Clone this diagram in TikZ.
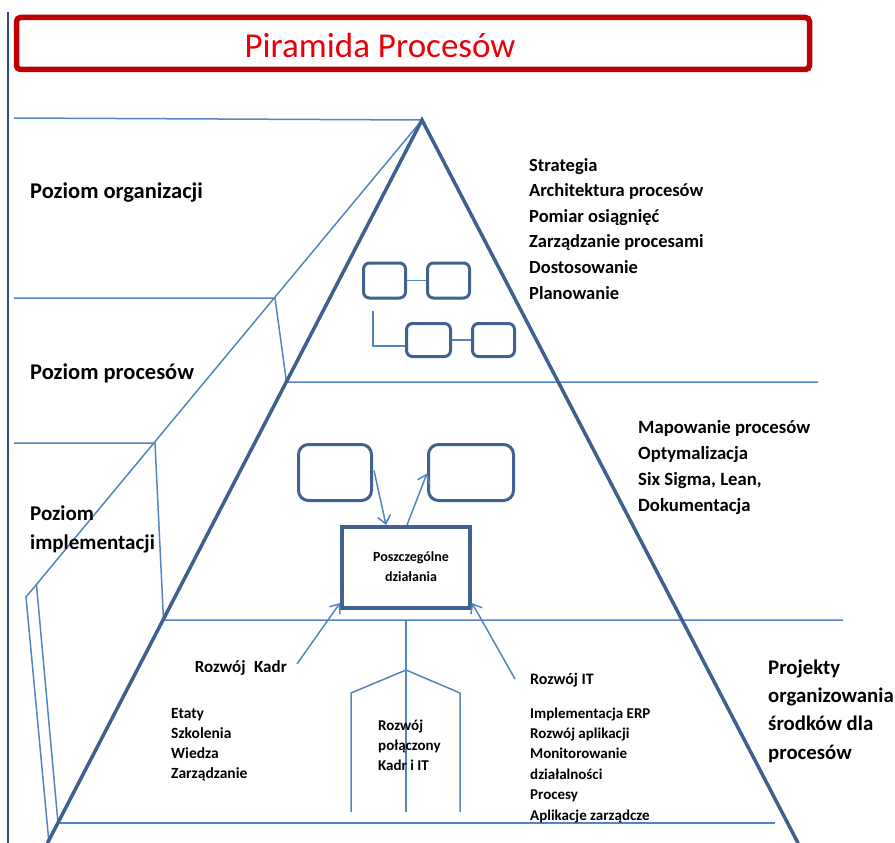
\documentclass[tikz,border=0pt]{standalone}
\usepackage{fontspec}
\setmainfont{Carlito}
\usetikzlibrary{arrows.meta,calc}
\definecolor{edgeblue}{HTML}{3F6190}
\definecolor{thinblue}{HTML}{5585C0}
\definecolor{boxblue}{HTML}{41618E}
\definecolor{frameblue}{HTML}{2B4C8C}
\definecolor{framered}{HTML}{C00000}
\definecolor{textred}{HTML}{E8000B}
\begin{document}
\begin{tikzpicture}[x=1pt,y=-1pt,
  levelline/.style={thinblue,line width=1.5pt},
  pyredge/.style={edgeblue,line width=3.5pt,line cap=round},
  smallbox/.style={draw=boxblue,line width=3pt,rounded corners=6pt,inner sep=0pt,minimum width=42pt,minimum height=35pt},
  midbox/.style={draw=boxblue,line width=3pt,rounded corners=10pt,inner sep=0pt,minimum height=56pt},
  actbox/.style={draw=boxblue,line width=4pt,inner sep=0pt,minimum width=128pt,minimum height=81pt},
  arr/.style={levelline,-{Straight Barb[length=8pt,width=13pt]}},
  lbl/.style={anchor=base west,inner sep=0pt,align=left,font=\bfseries},
]
\useasboundingbox (0,0) rectangle (895,843);

% frame line on the left and title bar
\draw[frameblue,line width=2pt] (8,12) -- (8,843);
\node[draw=framered,line width=5.5pt,rounded corners=4pt,minimum width=793pt,minimum height=52pt,inner sep=0pt] (titlebar) at (413,43.5) {};
\node[textred,font=\fontsize{35}{40}\selectfont,inner sep=0pt] (title) at (380,45) {Piramida Procesów};

% key points of the pyramid
\coordinate (apex) at (422,120);
\coordinate (baseL) at (47.5,843);
\coordinate (baseR) at (798,843);
\coordinate (l1) at (286.5,382);
\coordinate (l2) at (163.5,620);
\coordinate (l3) at (58,823);

% level lines and the slanted side face
\draw[levelline] (14,118) -- (apex);
\draw[levelline] (14,298) -- (275,298) -- (l1) -- (818,382);
\draw[levelline] (14,443) -- (155,443) -- (l2) -- (843,620);
\draw[levelline] (l3) -- (775,823);
\draw[levelline] (apex) -- (26,597) -- (49,843);
\draw[levelline] (36.5,585) -- (l3);

% pyramid edges
\draw[pyredge] (baseL) -- (apex) -- (baseR);

% process map boxes at the top level
\node[smallbox] (A) at (384.5,280.5) {};
\node[smallbox] (B) at (448.5,280.5) {};
\node[smallbox,minimum width=44pt,minimum height=33pt] (C) at (428.5,340) {};
\node[smallbox,minimum height=33pt] (D) at (493.5,340) {};
\coordinate (lstart) at (373,311);
\draw[levelline] (A.east) -- (B.west);
\draw[levelline] (C.east) -- (D.west);
\draw[levelline] (lstart) |- ($(C.west)+(0,6)$);

% process level boxes
\node[midbox,minimum width=73pt] (E) at (335,472.5) {};
\node[midbox,minimum width=85pt] (F) at (471,472.5) {};
\node[actbox] (G) at (406,567.5) {};
\node[font=\bfseries\fontsize{14}{20}\selectfont,align=center,inner sep=0pt] (Gtext) at (411,567) {Poszczególne\\działania};
\draw[arr] ($(E.east)+(1,-2)$) -- ($(G.north)+(-20,0)$);
\draw[arr] ($(G.north)+(1,0)$) -- ($(F.west)+(0,1)$);

% implementation level
\coordinate (kadr) at (297,664);
\coordinate (it) at (515,679);
\draw[arr] (kadr) -- ($(G.south west)+(0,-7)$);
\draw[arr] (it) -- ($(G.south east)+(0,-7)$);
\coordinate (hroof) at (406,670);
\draw[levelline] (351,812) -- (351,693) -- (hroof) -- (460,693) -- (460,812);
\draw[levelline] (406,621) -- (406,812);

% level names (anchored at the baseline of their last line)
\node[lbl,font=\bfseries\fontsize{22.5}{24}\selectfont] (lorg) at (30,198) {Poziom organizacji};
\node[lbl,font=\bfseries\fontsize{22.5}{24}\selectfont] (lproc) at (30,379) {Poziom procesów};
\node[lbl,font=\bfseries\fontsize{21}{29}\selectfont] (limpl) at (30,549) {Poziom\\implementacji};

% activity lists
\node[lbl,font=\bfseries\fontsize{18.5}{25.6}\selectfont] (orgl) at (529,299) {Strategia\\Architektura procesów\\Pomiar osiągnięć\\Zarządzanie procesami\\Dostosowanie\\Planowanie};
\node[lbl,font=\bfseries\fontsize{18.7}{25.7}\selectfont] (procl) at (638,511) {Mapowanie procesów\\Optymalizacja\\Six Sigma, Lean,\\Dokumentacja};
\node[lbl,font=\bfseries\fontsize{20.8}{28.3}\selectfont] (projl) at (768,759) {Projekty\\organizowania\\środków dla\\procesów};
\node[lbl,anchor=base east,font=\bfseries\fontsize{17}{20}\selectfont] (kadrl) at (287,672) {Rozwój\enspace Kadr};
\node[lbl,font=\bfseries\fontsize{15.5}{20}\selectfont] (kadrlist) at (171,778) {Etaty\\Szkolenia\\Wiedza\\Zarządzanie};
\node[lbl,font=\bfseries\fontsize{15}{20}\selectfont] (joint) at (378,770) {Rozwój\\połączony\\Kadr i IT};
\node[lbl,font=\bfseries\fontsize{16}{18}\selectfont] (itl) at (530,684) {Rozwój IT};
\node[lbl,font=\bfseries\fontsize{15}{20.4}\selectfont] (itlist) at (530,820) {Implementacja ERP\\Rozwój aplikacji\\Monitorowanie\\działalności\\Procesy\\Aplikacje zarządcze};
\end{tikzpicture}
\end{document}
